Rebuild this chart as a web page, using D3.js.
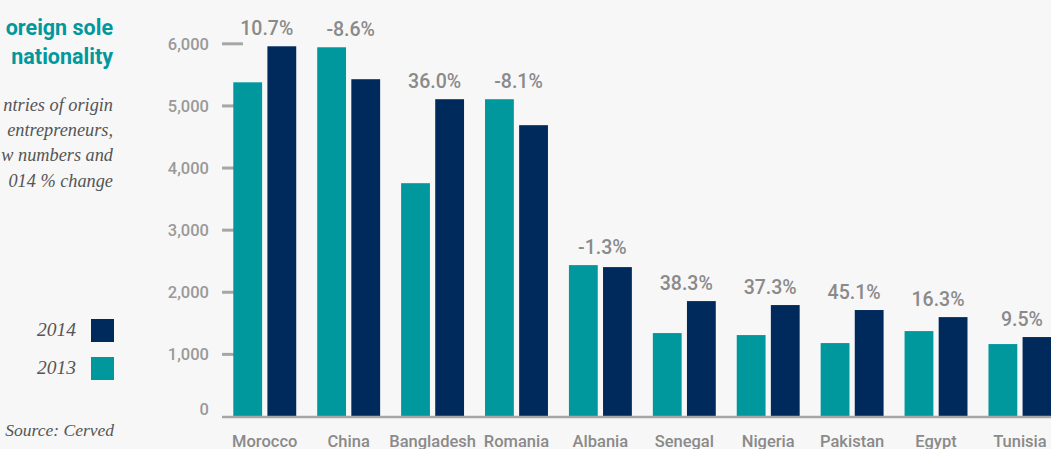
<!DOCTYPE html>
<html><head><meta charset="utf-8">
<script src="https://cdn.jsdelivr.net/npm/d3@7"></script>
<style>body{margin:0;background:#f7f7f7;overflow:hidden} svg{display:block}</style>
</head><body><svg id="c" width="1051" height="449"></svg>
<script>
const categories = ["Morocco","China","Bangladesh","Romania","Albania","Senegal","Nigeria","Pakistan","Egypt","Tunisia"];
const values2013 = [5380,5944,3756,5108,2437,1343,1311,1182,1375,1166];
const values2014 = [5960,5430,5108,4690,2405,1858,1794,1714,1600,1279];
const changeLabels = ["10.7%","-8.6%","36.0%","-8.1%","-1.3%","38.3%","37.3%","45.1%","16.3%","9.5%"];
const yTicks = [0,1000,2000,3000,4000,5000,6000];
const seriesNames = ["2013","2014"];
const legendOrder = ["2014","2013"];
const titleLines = ["oreign sole","nationality"];
const subtitleLines = ["ntries of origin","entrepreneurs,","w numbers and","014 % change"];
const sourceText = "Source: Cerved";

const colors = {"2013":"#00979d","2014":"#002a5c"};
const sans = "Roboto, 'Liberation Sans', sans-serif";
const serif = "'Liberation Serif', serif";

const svg = d3.select("#c");
svg.append("rect").attr("width",1051).attr("height",449).attr("fill","#f7f7f7");

const rows = categories.map((c,i)=>({cat:c, "2013":values2013[i], "2014":values2014[i], label:changeLabels[i]}));

const x0 = d3.scaleBand().domain(categories).range([233.3,1051.4]).paddingInner(0.25).paddingOuter(0);
const x1 = d3.scaleBand().domain(seriesNames).range([0,x0.bandwidth()]).paddingInner(0.155);
const y = d3.scaleLinear().domain([0,6000]).range([416.5,43.8]);

// y ticks
const yAxis = svg.append("g");
yAxis.selectAll("line").data(yTicks.filter(t=>t>0)).join("line")
  .attr("x1",222).attr("x2",243).attr("y1",d=>y(d)).attr("y2",d=>y(d))
  .attr("stroke","#a6a6a6").attr("stroke-width",3);
yAxis.selectAll("text").data(yTicks).join("text")
  .attr("x",209).attr("y",d=>y(d)).attr("dy",d=>d===0?"-2px":"0.35em")
  .attr("text-anchor","end").attr("font-family",sans).attr("font-weight",500).attr("font-size",16.5)
  .attr("fill","#999").text(d=>d3.format(",")(d));

// bars
const g = svg.append("g");
const groups = g.selectAll("g").data(rows).join("g").attr("transform",d=>`translate(${x0(d.cat)},0)`);
groups.selectAll("rect").data(d=>seriesNames.map(s=>({s, v:d[s]}))).join("rect")
  .attr("x",d=>x1(d.s)).attr("width",x1.bandwidth())
  .attr("y",d=>y(d.v)).attr("height",d=>y(0)-y(d.v))
  .attr("fill",d=>colors[d.s]);

// baseline
svg.append("line").attr("x1",222).attr("x2",1051).attr("y1",y(0)+0.5).attr("y2",y(0)+0.5)
  .attr("stroke","#a6a6a6").attr("stroke-width",2.5);

// change labels
groups.append("text")
  .attr("x",x0.bandwidth()/2+2).attr("y",d=>y(Math.max(d["2013"],d["2014"]))-11)
  .attr("text-anchor","middle").attr("font-family",sans).attr("font-weight",500).attr("font-size",19.5)
  .attr("fill","#8a8a8a").text(d=>d.label);

// category labels
groups.append("text")
  .attr("x",x0.bandwidth()/2).attr("y",446.5)
  .attr("text-anchor","middle").attr("font-family",sans).attr("font-weight",500).attr("font-size",16.5)
  .attr("fill","#8a8a8a").text(d=>d.cat);

// title
svg.append("g").selectAll("text").data(titleLines).join("text")
  .attr("x",113).attr("y",(d,i)=>35+i*29)
  .attr("text-anchor","end").attr("font-family",sans).attr("font-weight","bold")
  .attr("font-size",21.5).attr("fill","#00979d").text(d=>d);

// subtitle
svg.append("g").selectAll("text").data(subtitleLines).join("text")
  .attr("x",113).attr("y",(d,i)=>110.7+i*25.3)
  .attr("text-anchor","end").attr("font-family",serif).attr("font-style","italic")
  .attr("font-size",18.3).attr("fill","#555").text(d=>d);

// legend
const lg = svg.append("g").selectAll("g").data(legendOrder).join("g")
  .attr("transform",(d,i)=>`translate(0,${319+i*38})`);
lg.append("rect").attr("x",91).attr("y",0).attr("width",23).attr("height",23).attr("fill",d=>colors[d]);
lg.append("text").attr("x",76).attr("y",17).attr("text-anchor","end")
  .attr("font-family",serif).attr("font-style","italic").attr("font-size",19.5)
  .attr("fill","#555").text(d=>d);

svg.append("text").attr("x",114).attr("y",436).attr("text-anchor","end")
  .attr("font-family",serif).attr("font-style","italic").attr("font-size",17.5)
  .attr("fill","#555").text(sourceText);
</script></body></html>
